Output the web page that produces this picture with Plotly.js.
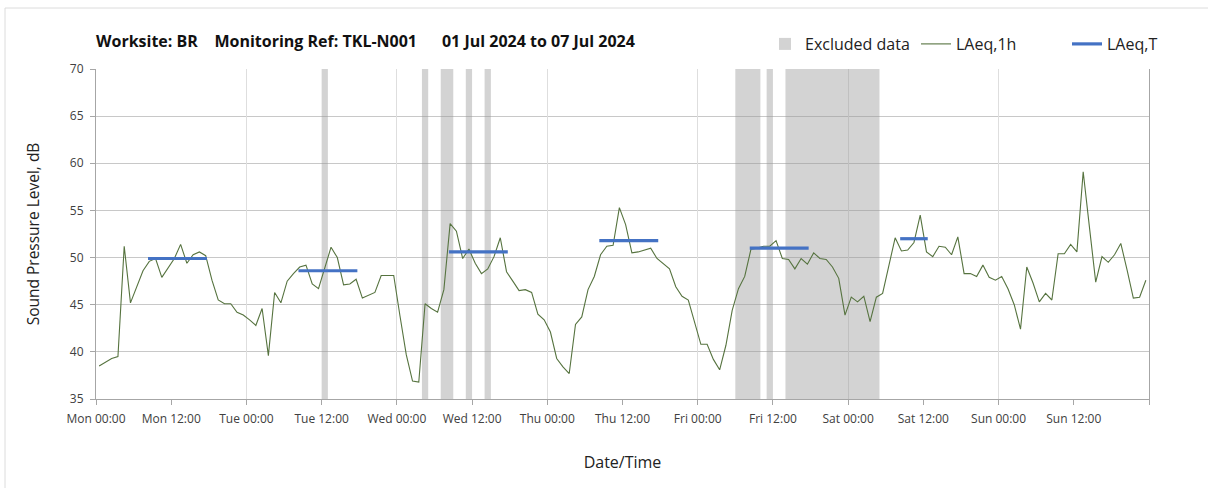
<!DOCTYPE html>
<html>
<head>
<meta charset="utf-8">
<script src="https://cdn.plot.ly/plotly-3.0.1.min.js"></script>
<style>html,body{margin:0;padding:0;background:#fff;}#chart{width:1208px;height:488px;}</style>
</head>
<body>
<div id="chart"></div>
<script>
// Hourly LAeq,1h values (dB), one per hour from Mon 00:00 (plotted at mid-hour)
const laeq1h = [
  38.5, 38.9, 39.3, 39.5, 51.2, 45.2, 46.9, 48.6, 49.6, 49.9, 47.9, 48.9, 49.9, 51.4, 49.4, 50.3, 50.6, 50.2, 47.6, 45.5, 45.1, 45.1, 44.2, 43.9,
  43.4, 42.8, 44.6, 39.6, 46.3, 45.2, 47.5, 48.3, 49.0, 49.2, 47.2, 46.7, 48.9, 51.1, 50.0, 47.1, 47.2, 47.7, 45.7, 46.0, 46.3, 48.1, 48.1, 48.1,
  43.8, 39.7, 36.9, 36.8, 45.1, 44.6, 44.2, 46.6, 53.6, 52.8, 49.9, 50.9, 49.4, 48.3, 48.8, 50.1, 52.1, 48.5, 47.5, 46.5, 46.6, 46.3, 44.0, 43.4,
  42.1, 39.3, 38.4, 37.7, 42.9, 43.7, 46.6, 48.0, 50.3, 51.2, 51.3, 55.3, 53.5, 50.5, 50.6, 50.8, 51.0, 49.9, 49.3, 48.8, 46.9, 45.9, 45.5, 43.0,
  40.8, 40.8, 39.2, 38.1, 40.7, 44.4, 46.7, 48.0, 50.9, 51.0, 51.2, 51.2, 51.8, 49.9, 49.8, 48.8, 49.9, 49.3, 50.5, 49.9, 49.8, 49.0, 47.8, 43.9,
  45.8, 45.3, 45.9, 43.2, 45.8, 46.2, 49.0, 52.1, 50.7, 50.8, 51.6, 54.5, 50.6, 50.1, 51.2, 51.1, 50.3, 52.2, 48.3, 48.3, 48.0, 49.2, 47.9, 47.6,
  48.0, 46.7, 45.0, 42.4, 49.0, 47.3, 45.3, 46.2, 45.5, 50.4, 50.4, 51.4, 50.6, 59.1, 53.2, 47.4, 50.1, 49.5, 50.3, 51.5, 48.7, 45.7, 45.8, 47.6
];

// LAeq,T per period (dB) with period start / end (hours from Mon 00:00)
const laeqT      = [49.9, 48.6, 50.6, 51.8, 51.0, 52.0];
const tStart     = [8.3, 32.3, 56.3, 80.3, 104.3, 128.3];
const tEnd       = [17.7, 41.7, 65.7, 89.7, 113.7, 132.7];

// Excluded data periods (hours from Mon 00:00)
const exclStart  = [36, 52, 55, 59, 62, 102, 107, 110];
const exclEnd    = [37, 53, 57, 60, 63, 106, 108, 125];

// Axis ticks
const tickHours  = [0, 12, 24, 36, 48, 60, 72, 84, 96, 108, 120, 132, 144, 156, 168];
const tickLabels = ["Mon 00:00", "Mon 12:00", "Tue 00:00", "Tue 12:00", "Wed 00:00", "Wed 12:00",
                    "Thu 00:00", "Thu 12:00", "Fri 00:00", "Fri 12:00", "Sat 00:00", "Sat 12:00",
                    "Sun 00:00", "Sun 12:00", ""];
const dayHours   = [24, 48, 72, 96, 120, 144];
const yMin = 35, yMax = 70, xMin = 0, xMax = 168;

const FONT = "Open Sans, Lato, sans-serif";

const hourX = laeq1h.map((_, i) => i + 0.5);

const tX = [], tY = [];
laeqT.forEach((v, i) => { tX.push(tStart[i], tEnd[i], null); tY.push(v, v, null); });

const traces = [
  {
    type: 'bar', name: 'Excluded data', xaxis: 'x', yaxis: 'y',
    x: exclStart.map((s, i) => (s + exclEnd[i]) / 2),
    width: exclStart.map((s, i) => exclEnd[i] - s),
    base: exclStart.map(() => yMin),
    y: exclStart.map(() => yMax - yMin),
    marker: {color: 'rgba(150,150,150,0.42)', line: {width: 0}},
    hoverinfo: 'skip'
  },
  {
    type: 'scatter', mode: 'lines', name: 'LAeq,1h', xaxis: 'x2', yaxis: 'y',
    x: hourX, y: laeq1h,
    line: {color: '#56733f', width: 1.1}
  },
  {
    type: 'scatter', mode: 'lines', name: 'LAeq,T', xaxis: 'x2', yaxis: 'y',
    x: tX, y: tY, connectgaps: false,
    line: {color: '#4472c4', width: 3.2}
  }
];

const plotL = 96, plotR = 1149, plotT = 69, plotB = 399;
const pw = plotR - plotL, ph = plotB - plotT;

const layout = {
  width: 1208, height: 488,
  margin: {l: plotL, r: 1208 - plotR, t: plotT, b: 488 - plotB, pad: 0, autoexpand: false},
  paper_bgcolor: '#ffffff', plot_bgcolor: 'rgba(0,0,0,0)',
  font: {family: FONT, color: '#404040'},
  showlegend: true,
  barmode: 'overlay',
  title: {
    text: '<b>Worksite: BR&nbsp;&nbsp;&nbsp; Monitoring Ref: TKL-N001&nbsp;&nbsp;&nbsp;&nbsp;&nbsp; 01 Jul 2024 to 07 Jul 2024</b>',
    font: {family: FONT, size: 16, color: '#111111'},
    x: 0, xref: 'paper', xanchor: 'left',
    y: 1 - 41 / 488, yref: 'container', yanchor: 'middle'
  },
  legend: {
    orientation: 'h', xref: 'container', yref: 'container',
    x: 765 / 1208, xanchor: 'left',
    y: 1 - 44 / 488, yanchor: 'middle',
    entrywidthmode: 'pixels', entrywidth: 106,
    font: {family: FONT, size: 16, color: '#222222'},
    bgcolor: 'rgba(0,0,0,0)', traceorder: 'normal'
  },
  xaxis: {
    range: [xMin, xMax], tickvals: tickHours, ticktext: tickLabels,
    showgrid: false, zeroline: false,
    showline: true, linecolor: '#a6a6a6', linewidth: 1,
    ticks: 'outside', ticklen: 5, tickcolor: '#a6a6a6', ticklabelstandoff: 4,
    tickfont: {family: FONT, size: 12, color: '#404040'},
    title: {text: 'Date/Time', font: {family: FONT, size: 16, color: '#222222'}, standoff: 30},
    automargin: false, fixedrange: true
  },
  xaxis2: {
    range: [xMin, xMax], overlaying: 'x', side: 'bottom',
    tickvals: dayHours, showticklabels: false, ticks: '',
    showgrid: true, gridcolor: '#dedede', gridwidth: 1,
    showline: false, zeroline: false, automargin: false, fixedrange: true
  },
  yaxis: {
    range: [yMin, yMax], dtick: 5, tick0: 35,
    showgrid: true, gridcolor: '#c8c8c8', gridwidth: 1.2, zeroline: false,
    showline: true, linecolor: '#a6a6a6', linewidth: 1, mirror: true,
    ticks: 'outside', ticklen: 5, tickcolor: '#a6a6a6', ticklabelstandoff: 4,
    tickfont: {family: FONT, size: 12, color: '#404040'},
    title: {text: 'Sound Pressure Level, dB', font: {family: FONT, size: 15.5, color: '#222222'}, standoff: 26},
    automargin: false, fixedrange: true
  },
  shapes: [
    {type: 'rect', xref: 'paper', yref: 'paper',
     x0: (5 - plotL) / pw, x1: (1300 - plotL) / pw,
     y0: (plotB - 600) / ph, y1: (plotB - 8) / ph,
     line: {color: '#dcdcdc', width: 1}, fillcolor: 'rgba(0,0,0,0)', layer: 'below'}
  ]
};

Plotly.newPlot('chart', traces, layout, {displayModeBar: false, staticPlot: true});
</script>
</body>
</html>
